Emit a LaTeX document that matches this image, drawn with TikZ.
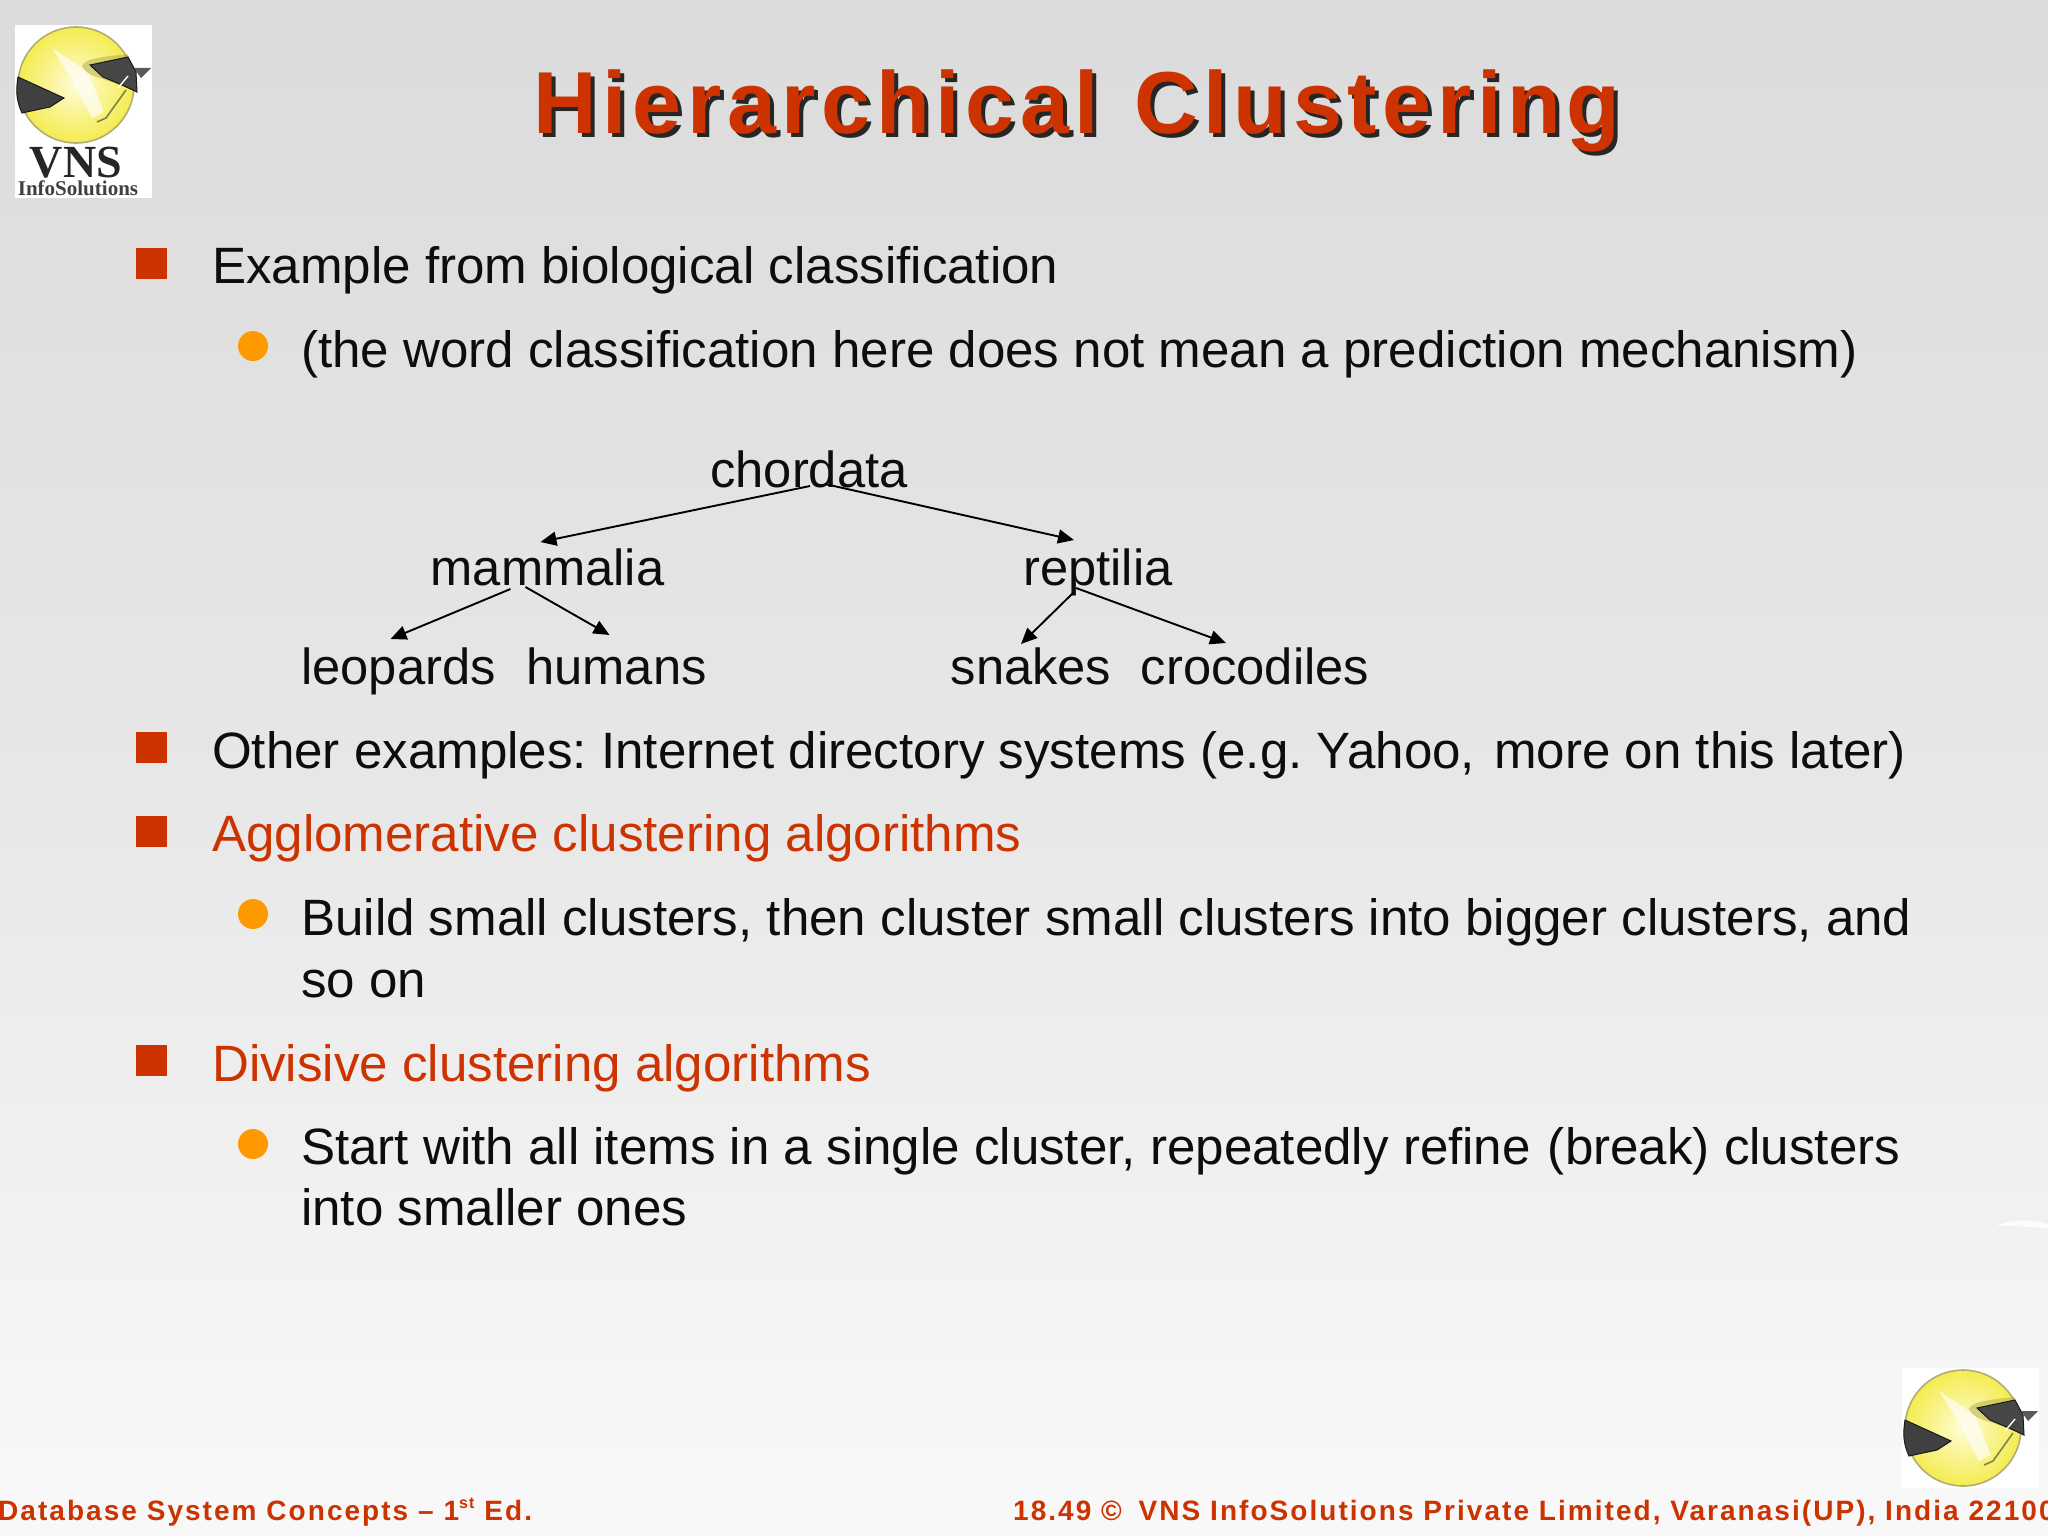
\documentclass[tikz,border=0pt]{standalone}
\usepackage{fontspec}
\setmainfont{Liberation Sans}
\newfontfamily\titlefont[LetterSpace=6.4]{Liberation Sans}
\newfontfamily\footfont[LetterSpace=7.3]{Liberation Sans}
\newfontfamily\logofont{Liberation Serif}
\usetikzlibrary{arrows.meta}
\definecolor{slidered}{HTML}{CC3300}
\definecolor{slideorange}{HTML}{FF9900}
\definecolor{ballinner}{HTML}{FFFCD8}
\definecolor{ballouter}{HTML}{F4EC50}
\tikzset{
  x=1pt,y=-1pt,
  body/.style={anchor=base west,inner sep=0pt,font=\frenchspacing\fontsize{51.1}{51.1}\selectfont,text=black!95},
  bodyred/.style={body,text=slidered},
  tree/.style={anchor=base,inner sep=0pt,font=\fontsize{50.7}{50.7}\selectfont,text=black!95},
  foot/.style={inner sep=0pt,font=\footfont\bfseries\frenchspacing\fontsize{28}{28}\selectfont,text=slidered},
  squarebullet/.style={fill=slidered,minimum size=31pt,inner sep=0pt,draw=none},
  roundbullet/.style={circle,fill=slideorange,minimum size=30pt,inner sep=0pt,draw=none},
  link/.style={draw=black,line width=1.9pt,-{Triangle[length=16pt,width=14pt]}},
  pics/vnsball/.style={code={
    \shade[inner color=ballinner,outer color=ballouter] (76,85) circle[radius=58];
    \draw[yellow!50!black!70!white,line width=1.6pt] (76,85) circle[radius=58];
    \fill[white,opacity=.65] (52,48) -- (88,72) -- (104,112) -- (92,118) -- (72,80) -- cycle;
    \fill[yellow!60!black,opacity=.45] (82,66) .. controls (84,58) and (110,56) .. (128,54) -- (128,88) -- (100,78) .. controls (92,76) and (84,72) .. (82,66) -- cycle;
    \fill[black!75,draw=black!90,line width=1pt] (18,77) -- (64,98) -- (50,107) -- (22,113) .. controls (16,100) and (16,90) .. (18,77) -- cycle;
    \fill[black!72,draw=black!90,line width=1pt] (90,65) -- (128,57) -- (136,72) -- (137,92) -- (122,85) -- (103,77) -- cycle;
    \fill[black!65] (134,68) -- (151,68) -- (141,78) -- cycle;
    \draw[yellow!45!black,line width=1.6pt] (97,122) -- (106,118) -- (126,90);
    \draw[white,line width=1.4pt] (128,76) -- (118,88);
  }}
}
\begin{document}
\begin{tikzpicture}
\useasboundingbox (0,0) rectangle (2048,1536);
\clip (0,0) rectangle (2048,1536);
\shade[top color=black!14,bottom color=black!2.5,middle color=black!9.5] (0,0) rectangle (2048,1536);
\fill[white,opacity=.8] (1996,1226) .. controls (2015,1218) and (2035,1220) .. (2048,1224) -- (2048,1229) .. controls (2030,1226) and (2012,1226) .. (1996,1226) -- cycle;

% logos
\fill[white] (15,25) rectangle (152,198);
\pic at (0,0) {vnsball};
\node[inner sep=0pt,anchor=base,font=\logofont\bfseries\fontsize{46}{46}\selectfont,text=black!85] (vns) at (76,177) {VNS};
\node[inner sep=0pt,anchor=base,font=\logofont\bfseries\fontsize{21}{21}\selectfont,text=black!75] (info) at (78,195) {InfoSolutions};
\fill[white] (1902,1368) rectangle (2039,1488);
\pic at (1887,1343) {vnsball};

% title
\node[anchor=base,inner sep=0pt,font=\titlefont\bfseries\fontsize{88}{88}\selectfont,text=black!85] (titleshadow) at (1081,137.5) {Hierarchical\hspace{5pt} Clustering};
\node[anchor=base,inner sep=0pt,font=\titlefont\bfseries\fontsize{88}{88}\selectfont,text=slidered] (title) at (1077,133.5) {Hierarchical\hspace{5pt} Clustering};

% bullets
\node[squarebullet] (b1) at (151.5,263) {};
\node[roundbullet] (c1) at (253,346) {};
\node[squarebullet] (b2) at (151.5,747) {};
\node[squarebullet] (b3) at (151.5,831) {};
\node[roundbullet] (c2) at (253,914) {};
\node[squarebullet] (b4) at (151.5,1060) {};
\node[roundbullet] (c3) at (253,1144) {};

% text
\node[body] (t1) at (212,283) {Example from biological classification};
\node[body] (t2) at (301,367) {(the word classification here does not mean a prediction mechanism)};
\node[body] (t3) at (212,768) {Other examples: Internet directory systems (e.g. Yahoo,\hspace{5pt} more on this later)};
\node[bodyred] (t4) at (212,851) {Agglomerative clustering algorithms};
\node[body] (t5) at (301,935) {Build small clusters, then cluster small clusters into bigger clusters, and};
\node[body] (t6) at (301,997) {so on};
\node[bodyred] (t7) at (212,1081) {Divisive clustering algorithms};
\node[body] (t8) at (301,1164) {Start with all items in a single cluster, repeatedly refine\hspace{3pt} (break) clusters};
\node[body] (t9) at (301,1225) {into smaller ones};

% tree
\node[tree] (chordata) at (809,487) {chordata};
\node[tree] (mammalia) at (547.5,585) {mammalia};
\node[tree] (reptilia) at (1098,585) {reptilia};
\node[tree] (leopards) at (398.5,684) {leopards};
\node[tree] (humans) at (616.5,684) {humans};
\node[tree] (snakes) at (1031,684) {snakes};
\node[tree] (crocodiles) at (1255,684) {crocodiles};
\draw[link] ([shift={(1,-1)}]chordata.base) -- ([shift={(-7,-43)}]mammalia.base);
\draw[link] ([shift={(16,-3)}]chordata.base) -- ([shift={(-24,-45)}]reptilia.base);
\draw[link] ([shift={(-37,4)}]mammalia.base) -- ([shift={(-8,-45)}]leopards.base);
\draw[link] ([shift={(-22,2)}]mammalia.base) -- ([shift={(-7,-49)}]humans.base);
\draw[link] ([shift={(-25,8)}]reptilia.base) -- ([shift={(-10,-40)}]snakes.base);
\draw[link] ([shift={(-22,3)}]reptilia.base) -- ([shift={(-29,-41)}]crocodiles.base);

% footer
\node[foot,anchor=base west] (footleft) at (-2,1520) {Database System Concepts – 1\raisebox{.42em}{\fontsize{16}{16}\selectfont st} Ed.};
\node[foot,anchor=base west] (footright) at (1013,1520) {18.49 ©\hspace{7pt} VNS InfoSolutions Private Limited, Varanasi(UP), India 22100};
\end{tikzpicture}
\end{document}
